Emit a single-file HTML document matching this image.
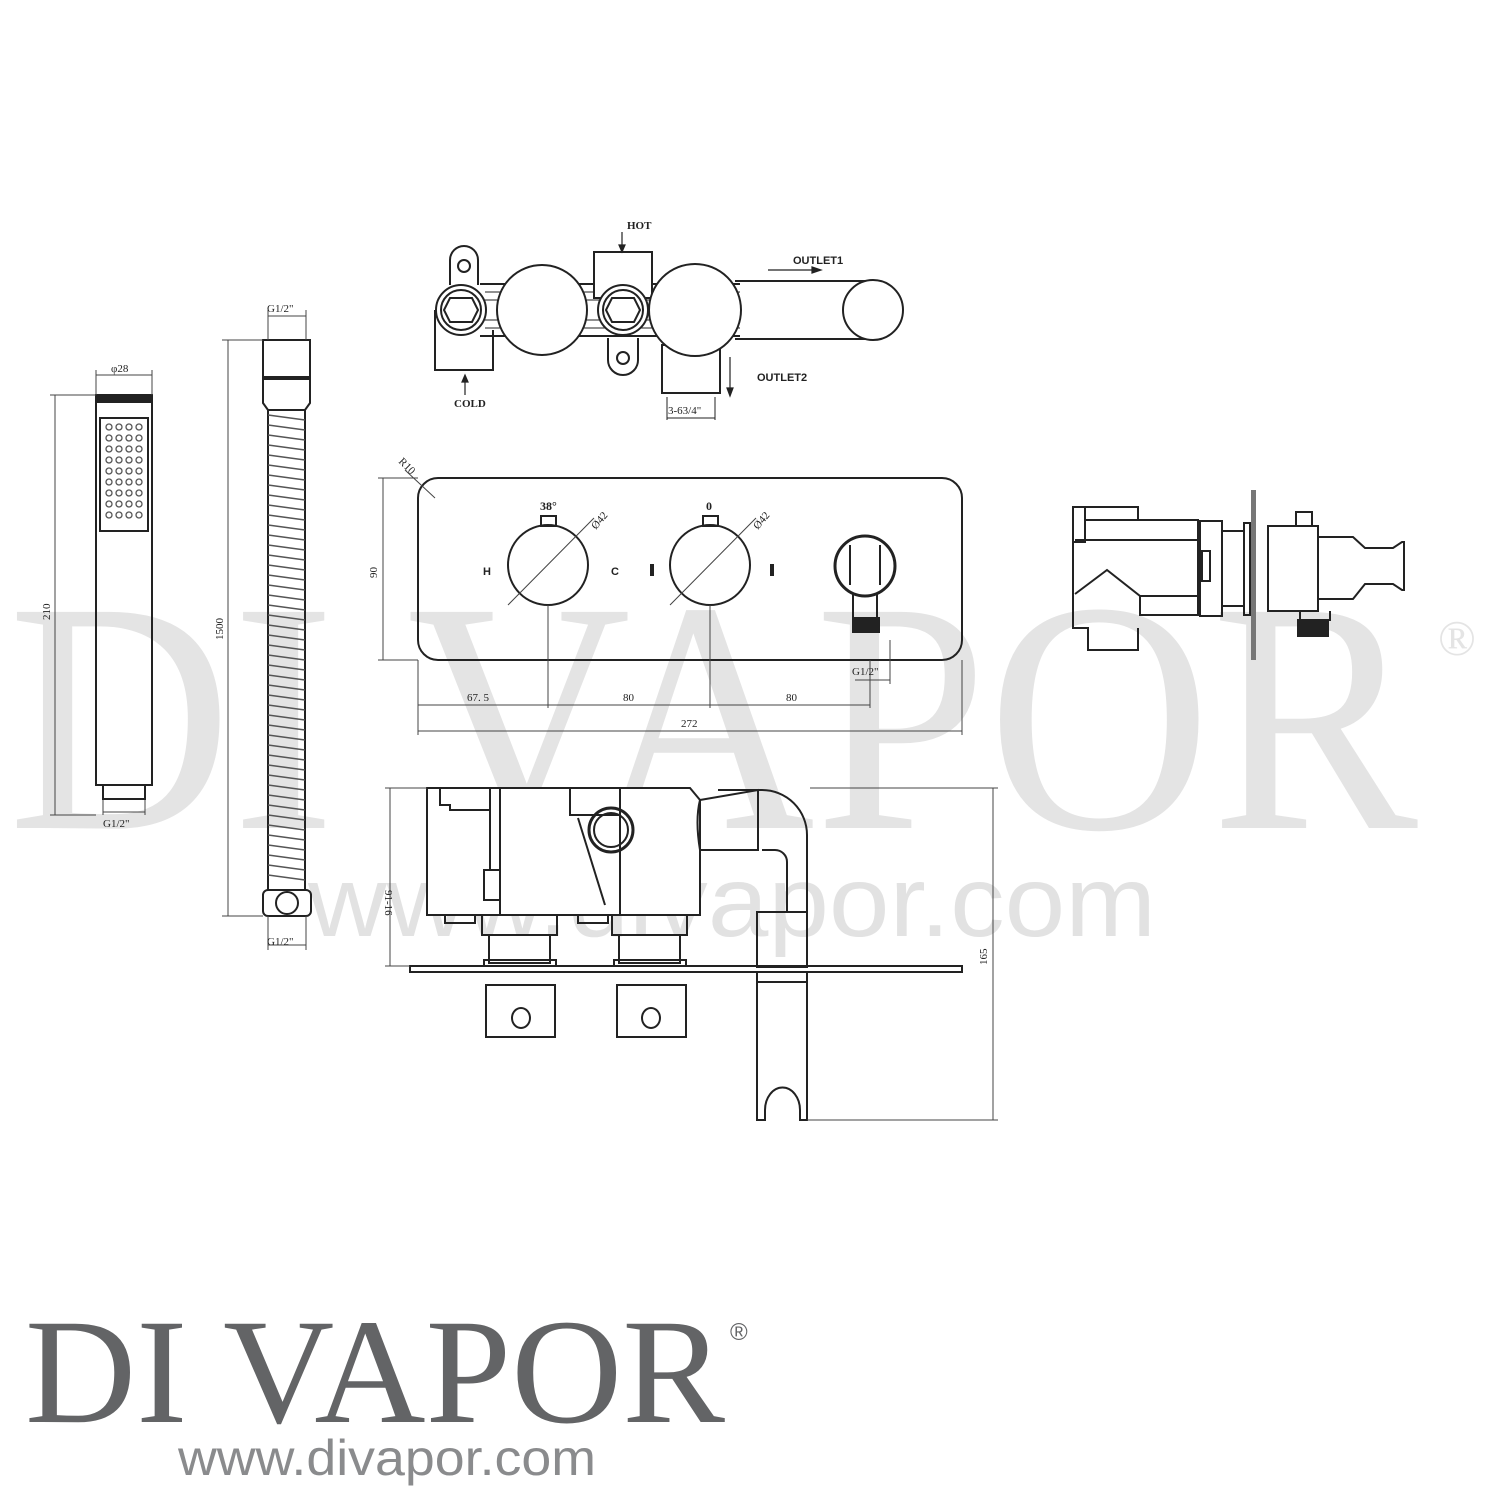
<!DOCTYPE html>
<html><head><meta charset="utf-8"><style>
html,body{margin:0;padding:0;background:#fff}
svg{display:block}
</style></head><body>
<svg width="1500" height="1500" viewBox="0 0 1500 1500" xmlns="http://www.w3.org/2000/svg">
<!-- watermark -->
<g fill="#e4e4e4" font-family="Liberation Serif, serif">
<text x="8" y="828" font-size="330" textLength="1410" lengthAdjust="spacingAndGlyphs">DI VAPOR</text>
<text x="1438" y="655" font-size="50">®</text>
</g>
<text x="308" y="936" font-family="Liberation Sans, sans-serif" font-size="100" fill="#e2e2e2" textLength="848" lengthAdjust="spacingAndGlyphs">www.divapor.com</text>

<g fill="none" stroke="#222" stroke-width="2">
<!-- hand shower -->
<rect x="96" y="395" width="56" height="390"/>
<rect x="96" y="395" width="56" height="7" fill="#222"/>
<rect x="100" y="418" width="48" height="113"/>
<rect x="103" y="785" width="42" height="14"/>
<!-- hose -->
<path d="M263 340 H310 V403 L305 410 H268 L263 403 Z"/>
<line x1="263" y1="378" x2="310" y2="378" stroke-width="4"/>
<line x1="268" y1="410" x2="268" y2="890"/>
<line x1="305" y1="410" x2="305" y2="890"/>
<rect x="263" y="890" width="48" height="26" rx="5"/>
<circle cx="287" cy="903" r="11"/>
</g>
<g fill="#555">
<!-- nozzle dots -->
<g id="dots">
</g>
</g>
<g stroke="#555" stroke-width="1.5">
<path d="M268 415 L305 420 M268 425 L305 430 M268 435 L305 440 M268 445 L305 450 M268 455 L305 460 M268 465 L305 470 M268 475 L305 480 M268 485 L305 490 M268 495 L305 500 M268 505 L305 510 M268 515 L305 520 M268 525 L305 530 M268 535 L305 540 M268 545 L305 550 M268 555 L305 560 M268 565 L305 570 M268 575 L305 580 M268 585 L305 590 M268 595 L305 600 M268 605 L305 610 M268 615 L305 620 M268 625 L305 630 M268 635 L305 640 M268 645 L305 650 M268 655 L305 660 M268 665 L305 670 M268 675 L305 680 M268 685 L305 690 M268 695 L305 700 M268 705 L305 710 M268 715 L305 720 M268 725 L305 730 M268 735 L305 740 M268 745 L305 750 M268 755 L305 760 M268 765 L305 770 M268 775 L305 780 M268 785 L305 790 M268 795 L305 800 M268 805 L305 810 M268 815 L305 820 M268 825 L305 830 M268 835 L305 840 M268 845 L305 850 M268 855 L305 860 M268 865 L305 870 M268 875 L305 880"/>
</g>

<!-- dims shower/hose -->
<g stroke="#444" stroke-width="1" fill="none">
<line x1="96" y1="375" x2="152" y2="375"/><line x1="96" y1="370" x2="96" y2="395"/><line x1="152" y1="370" x2="152" y2="395"/>
<line x1="55" y1="395" x2="55" y2="815"/><line x1="50" y1="395" x2="96" y2="395"/><line x1="50" y1="815" x2="96" y2="815"/>
<line x1="103" y1="812" x2="145" y2="812"/><line x1="103" y1="800" x2="103" y2="815"/><line x1="145" y1="800" x2="145" y2="815"/>
<line x1="268" y1="316" x2="306" y2="316"/><line x1="268" y1="310" x2="268" y2="340"/><line x1="306" y1="310" x2="306" y2="340"/>
<line x1="228" y1="340" x2="228" y2="916"/><line x1="222" y1="340" x2="263" y2="340"/><line x1="222" y1="916" x2="263" y2="916"/>
<line x1="268" y1="945" x2="306" y2="945"/><line x1="268" y1="916" x2="268" y2="950"/><line x1="306" y1="916" x2="306" y2="950"/>
</g>
<g font-family="Liberation Serif, serif" font-size="11" fill="#222">
<text x="111" y="372">φ28</text>
<text x="103" y="827">G1/2"</text>
<text x="267" y="312">G1/2"</text>
<text x="267" y="945">G1/2"</text>
<text transform="translate(50 620) rotate(-90)">210</text>
<text transform="translate(223 640) rotate(-90)">1500</text>
</g>

<!-- top valve -->
<g fill="none" stroke="#222" stroke-width="2">
<path d="M450 285 V260 A14 14 0 0 1 478 260 V285"/><circle cx="464" cy="266" r="6"/>
<path d="M435 310 V370 H493 V330"/>
<line x1="480" y1="284" x2="740" y2="284"/><line x1="480" y1="336" x2="740" y2="336"/>
<line x1="485" y1="292" x2="740" y2="292" stroke-width="1"/><line x1="485" y1="300" x2="740" y2="300" stroke-width="1"/><line x1="485" y1="320" x2="740" y2="320" stroke-width="1"/><line x1="485" y1="328" x2="740" y2="328" stroke-width="1"/>
<rect x="594" y="252" width="58" height="46" fill="#fff"/>
<path d="M608 338 V360 A15 15 0 0 0 638 360 V338" fill="#fff"/><circle cx="623" cy="358" r="6"/>
<rect x="662" y="345" width="58" height="48" fill="#fff"/>
<circle cx="542" cy="310" r="45" fill="#fff"/>
<circle cx="695" cy="310" r="46" fill="#fff"/>
<line x1="735" y1="281" x2="873" y2="281"/><line x1="735" y1="339" x2="873" y2="339"/>
<circle cx="873" cy="310" r="30" fill="#fff"/>
<circle cx="461" cy="310" r="25" fill="#fff"/><circle cx="461" cy="310" r="20"/><path d="M450 298 H472 L478 310 L472 322 H450 L444 310 Z"/>
<circle cx="623" cy="310" r="25" fill="#fff"/><circle cx="623" cy="310" r="20"/><path d="M612 298 H634 L640 310 L634 322 H612 L606 310 Z"/>
</g>
<g stroke="#222" stroke-width="1.2" fill="#222">
<line x1="622" y1="232" x2="622" y2="250"/><path d="M619 245 L622 252 L625 245Z"/>
<line x1="465" y1="395" x2="465" y2="376"/><path d="M462 382 L465 375 L468 382Z"/>
<line x1="768" y1="270" x2="815" y2="270"/><path d="M812 267 L821 270 L812 273Z"/>
<line x1="730" y1="357" x2="730" y2="392"/><path d="M727 388 L730 396 L733 388Z"/>
<line x1="667" y1="418" x2="715" y2="418" stroke-width="1"/><line x1="667" y1="397" x2="667" y2="420" stroke-width="1"/><line x1="715" y1="397" x2="715" y2="420" stroke-width="1"/>
</g>
<g font-family="Liberation Serif, serif" font-size="11" fill="#222" font-weight="bold">
<text x="627" y="229">HOT</text>
<text x="454" y="407">COLD</text>
<text x="793" y="264" font-family="Liberation Sans, sans-serif">OUTLET1</text>
<text x="757" y="381" font-family="Liberation Sans, sans-serif">OUTLET2</text>
<text x="668" y="414" font-weight="normal">3-63/4"</text>
</g>

<!-- front plate -->
<g fill="none" stroke="#222" stroke-width="2">
<rect x="418" y="478" width="544" height="182" rx="20"/>
<circle cx="548" cy="565" r="40"/><rect x="541" y="516" width="15" height="10"/>
<circle cx="710" cy="565" r="40"/><rect x="703" y="516" width="15" height="10"/>
<circle cx="865" cy="566" r="30" stroke-width="3"/>
<path d="M850 545 V585 M880 545 V585"/>
<path d="M853 594 V618 M877 594 V618"/>
<rect x="853" y="618" width="26" height="14" fill="#222"/>
</g>
<g stroke="#222" stroke-width="4"><line x1="652" y1="564" x2="652" y2="576"/><line x1="772" y1="564" x2="772" y2="576"/></g>
<g stroke="#444" stroke-width="1" fill="none">
<line x1="508" y1="605" x2="594" y2="518"/><line x1="670" y1="605" x2="756" y2="518"/>
<line x1="548" y1="605" x2="548" y2="708"/><line x1="710" y1="605" x2="710" y2="708"/>
<line x1="418" y1="705" x2="870" y2="705"/><line x1="418" y1="660" x2="418" y2="735"/><line x1="962" y1="660" x2="962" y2="735"/><line x1="870" y1="660" x2="870" y2="708"/>
<line x1="418" y1="731" x2="962" y2="731"/>
<line x1="855" y1="680" x2="890" y2="680"/><line x1="890" y1="640" x2="890" y2="684"/>
<line x1="383" y1="478" x2="383" y2="660"/><line x1="378" y1="478" x2="418" y2="478"/><line x1="378" y1="660" x2="418" y2="660"/>
<line x1="405" y1="470" x2="435" y2="498"/>
</g>
<g font-family="Liberation Serif, serif" font-size="11" fill="#222">
<text x="540" y="510" font-weight="bold" font-size="12">38°</text>
<text x="706" y="510" font-weight="bold" font-size="12">0</text>
<text x="483" y="575" font-weight="bold" font-family="Liberation Sans, sans-serif">H</text>
<text x="611" y="575" font-weight="bold" font-family="Liberation Sans, sans-serif">C</text>
<text transform="translate(596 530) rotate(-50)">Ø42</text>
<text transform="translate(758 530) rotate(-50)">Ø42</text>
<text transform="translate(398 462) rotate(45)">R10</text>
<text transform="translate(377 578) rotate(-90)">90</text>
<text x="467" y="701">67. 5</text><text x="623" y="701">80</text><text x="786" y="701">80</text>
<text x="681" y="727">272</text>
<text x="852" y="675">G1/2"</text>
</g>

<!-- right side view -->
<g fill="none" stroke="#222" stroke-width="2">
<rect x="1073" y="507" width="12" height="35"/>
<path d="M1085 507 H1138 V520 H1198 V615 H1140 V596 L1107 570 L1075 594"/>
<line x1="1085" y1="520" x2="1138" y2="520"/><line x1="1075" y1="540" x2="1198" y2="540"/><line x1="1140" y1="596" x2="1198" y2="596"/>
<path d="M1073 542 V628 H1088 V650 H1138 V628"/>
<rect x="1200" y="521" width="22" height="95"/>
<rect x="1202" y="551" width="8" height="30"/>
<rect x="1222" y="531" width="22" height="75"/>
<rect x="1244" y="523" width="6" height="92"/>
<rect x="1268" y="526" width="50" height="85"/>
<rect x="1296" y="512" width="16" height="14"/>
<path d="M1318 537 H1353 L1365 548 H1393 L1402 542 H1404 V590 H1402 L1393 584 H1365 L1353 599 H1318"/>
<path d="M1300 611 V620 H1330 V611"/>
<rect x="1298" y="620" width="30" height="16" fill="#222"/>
</g>
<rect x="1251" y="490" width="5" height="170" fill="#777"/>

<!-- side view -->
<g fill="none" stroke="#222" stroke-width="2">
<path d="M427 788 H690 L700 800 V915 H427 Z" fill="#fff"/>
<path d="M440 788 V805 H450 V810 H490 V788"/>
<line x1="490" y1="810" x2="490" y2="870"/><rect x="484" y="870" width="16" height="30"/>
<line x1="500" y1="788" x2="500" y2="915"/>
<path d="M570 788 V815 H620"/><line x1="620" y1="788" x2="620" y2="915"/>
<path d="M578 818 L605 905"/>
<circle cx="611" cy="830" r="22" stroke-width="3"/><circle cx="611" cy="830" r="17"/>
<line x1="620" y1="915" x2="650" y2="915"/>
<path d="M700 800 Q695 820 700 850 L758 850 V790 L700 800"/>
<path d="M718 790 H762 A45 45 0 0 1 807 835 V912 M762 850 H775 A12 12 0 0 1 787 862 V912"/>
<rect x="482" y="915" width="75" height="20"/><rect x="489" y="935" width="61" height="28"/><rect x="484" y="960" width="72" height="6"/>
<rect x="612" y="915" width="75" height="20"/><rect x="619" y="935" width="61" height="28"/><rect x="614" y="960" width="72" height="6"/>
<rect x="410" y="966" width="552" height="6"/>
<rect x="486" y="985" width="69" height="52"/><rect x="617" y="985" width="69" height="52"/>
<ellipse cx="521" cy="1018" rx="9" ry="10"/><ellipse cx="651" cy="1018" rx="9" ry="10"/>
<rect x="757" y="912" width="50" height="55"/>
<path d="M757 972 V1120 H765 V1110 A14 18 0 1 1 800 1110 V1120 H807 V972"/>
<line x1="757" y1="982" x2="807" y2="982"/>
<rect x="445" y="915" width="30" height="8"/><rect x="578" y="915" width="30" height="8"/>
</g>
<g stroke="#444" stroke-width="1">
<line x1="390" y1="788" x2="390" y2="966"/><line x1="385" y1="788" x2="427" y2="788"/><line x1="385" y1="966" x2="410" y2="966"/>
<line x1="993" y1="788" x2="993" y2="1120"/><line x1="810" y1="788" x2="998" y2="788"/><line x1="807" y1="1120" x2="998" y2="1120"/>
</g>
<g font-family="Liberation Serif, serif" font-size="11" fill="#222">
<text transform="translate(385 890) rotate(90)">91-16</text>
<text transform="translate(987 965) rotate(-90)">165</text>
</g>

<!-- logo -->
<text x="25" y="1422" font-family="Liberation Serif, serif" font-size="150" fill="#636466" textLength="700" lengthAdjust="spacingAndGlyphs">DI VAPOR</text>
<text x="730" y="1340" font-family="Liberation Sans, sans-serif" font-size="24" fill="#636466">®</text>
<text x="178" y="1475" font-family="Liberation Sans, sans-serif" font-size="50" fill="#8a8b8d" textLength="418" lengthAdjust="spacingAndGlyphs">www.divapor.com</text>

<!-- nozzle dots -->
<g fill="none" stroke="#555" stroke-width="1.3">
<circle cx="109" cy="427" r="3"/><circle cx="119" cy="427" r="3"/><circle cx="129" cy="427" r="3"/><circle cx="139" cy="427" r="3"/>
<circle cx="109" cy="438" r="3"/><circle cx="119" cy="438" r="3"/><circle cx="129" cy="438" r="3"/><circle cx="139" cy="438" r="3"/>
<circle cx="109" cy="449" r="3"/><circle cx="119" cy="449" r="3"/><circle cx="129" cy="449" r="3"/><circle cx="139" cy="449" r="3"/>
<circle cx="109" cy="460" r="3"/><circle cx="119" cy="460" r="3"/><circle cx="129" cy="460" r="3"/><circle cx="139" cy="460" r="3"/>
<circle cx="109" cy="471" r="3"/><circle cx="119" cy="471" r="3"/><circle cx="129" cy="471" r="3"/><circle cx="139" cy="471" r="3"/>
<circle cx="109" cy="482" r="3"/><circle cx="119" cy="482" r="3"/><circle cx="129" cy="482" r="3"/><circle cx="139" cy="482" r="3"/>
<circle cx="109" cy="493" r="3"/><circle cx="119" cy="493" r="3"/><circle cx="129" cy="493" r="3"/><circle cx="139" cy="493" r="3"/>
<circle cx="109" cy="504" r="3"/><circle cx="119" cy="504" r="3"/><circle cx="129" cy="504" r="3"/><circle cx="139" cy="504" r="3"/>
<circle cx="109" cy="515" r="3"/><circle cx="119" cy="515" r="3"/><circle cx="129" cy="515" r="3"/><circle cx="139" cy="515" r="3"/>
</g>
</svg>
</body></html>
